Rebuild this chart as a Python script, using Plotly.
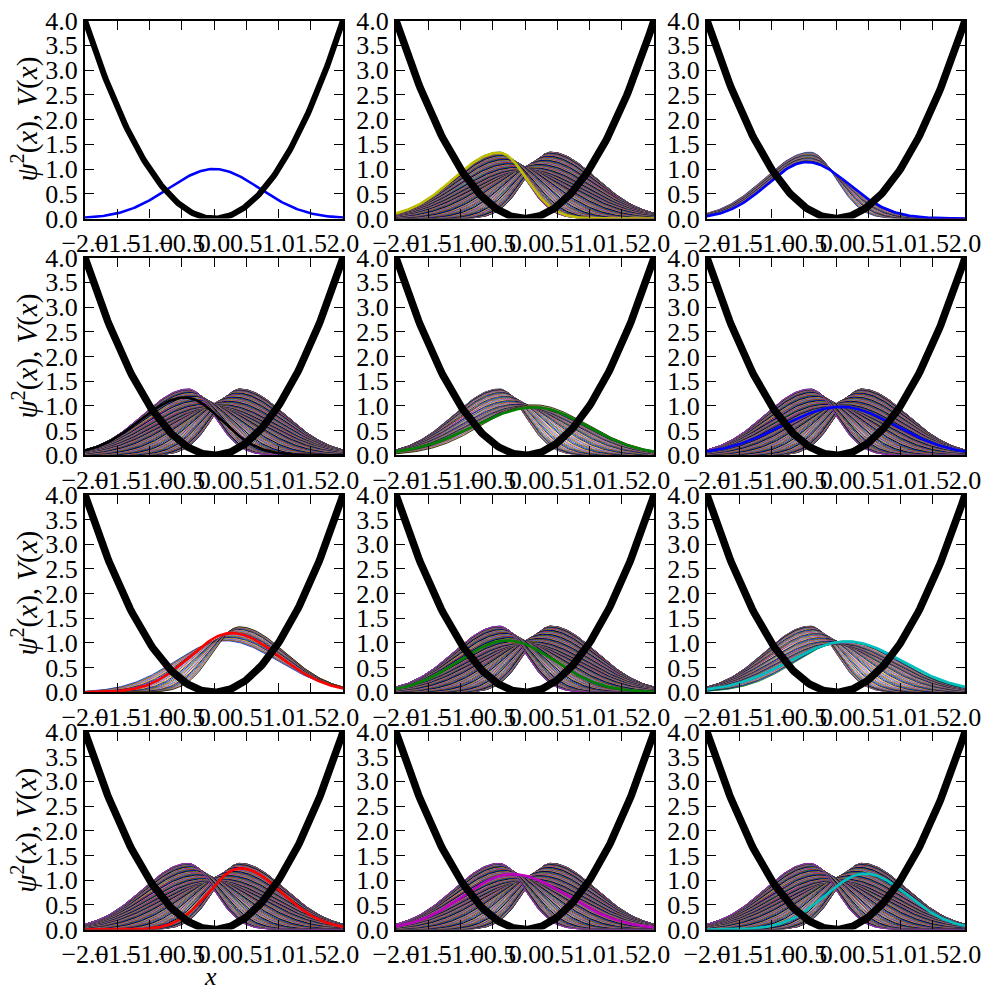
import numpy as np
import plotly.graph_objects as go

# ---------------------------------------------------------------- data ----
# sampling grid and tick labels
X_MIN, X_MAX = -2.0, 2.0
Y_MIN, Y_MAX = 0.0, 4.0
X_TICKS = [-2.0, -1.5, -1.0, -0.5, 0.0, 0.5, 1.0, 1.5, 2.0]
X_TICK_TEXT = ["\u22122.0", "\u22121.5", "\u22121.0", "\u22120.5", "0.0", "0.5", "1.0", "1.5", "2.0"]
Y_TICKS = [0.0, 0.5, 1.0, 1.5, 2.0, 2.5, 3.0, 3.5, 4.0]
Y_TICK_TEXT = ["0.0", "0.5", "1.0", "1.5", "2.0", "2.5", "3.0", "3.5", "4.0"]

# oscillating density: turning-point state and mid-swing state
TURN_SHIFT = 0.40      # centre offset at the turning points
TURN_PEAK = 1.34       # peak height at the turning points
TURN_OUTER_W = 1.00    # width on the outer flank at the turning points
TURN_INNER_W = 0.56    # width on the inner flank at the turning points
MID_PEAK = 0.98        # peak height when crossing the middle
MID_W = 1.20           # width when crossing the middle

# per-panel band of earlier frames (phase in degrees), None = no band
BAND_FROM = [None, 0, 0, 0, 0, 0, 115, 0, 0, 0, 0, 0]
BAND_TO = [None, 360, 0, 360, 112, 360, 170, 360, 115, 360, 360, 360]
BAND_INTO_CURRENT = [False, False, True, False, False, False, False, False, False, False, False, False]

# current frame of each panel (split-Gaussian: centre, peak, left width, right width)
CUR_CENTER = [0.00, -0.40, -0.45, -0.45, 0.15, 0.08, 0.27, -0.28, 0.17, 0.41, -0.20, 0.45]
CUR_PEAK = [1.00, 1.33, 1.14, 1.17, 0.97, 0.98, 1.20, 1.05, 1.03, 1.24, 1.12, 1.13]
CUR_LEFT_W = [1.00, 1.00, 0.87, 0.98, 1.33, 1.30, 0.90, 1.05, 1.28, 0.70, 1.07, 0.88]
CUR_RIGHT_W = [1.00, 0.60, 0.92, 0.80, 1.15, 1.20, 1.05, 1.05, 1.22, 0.90, 1.22, 0.94]
CUR_COLOR = ["b", "y", "b", "k", "g", "b", "r", "g", "c", "r", "m", "c"]

CYCLE = ["b", "g", "r", "c", "m", "y", "k"]
RGB = {"b": "#0000ff", "g": "#008000", "r": "#ff0000", "c": "#00bfbf",
       "m": "#bf00bf", "y": "#bfbf00", "k": "#000000"}

# ------------------------------------------------------------- helpers ----
x = np.linspace(X_MIN, X_MAX, 161)
xs = np.round(x, 4)


def density(c, h, wl, wr):
    w = np.where(x < c, wl, wr)
    return np.round(h * np.exp(-((x - c) / w) ** 2), 4)


def phase_state(deg):
    k = np.cos(np.radians(deg))
    c = -TURN_SHIFT * k
    f = k * k
    h = MID_PEAK + (TURN_PEAK - MID_PEAK) * f
    w_out = MID_W + (TURN_OUTER_W - MID_W) * f
    w_in = MID_W + (TURN_INNER_W - MID_W) * f
    return (c, h, w_out, w_in) if c < 0 else (c, h, w_in, w_out)


# ---------------------------------------------------------------- layout ----
W, H = 982, 992
COLS = [(85, 343), (396, 654), (707, 965)]
ROWS = [(20.5, 218.5), (257.7, 455.2), (494.8, 692.3), (732.0, 929.5)]
FONT = "Liberation Serif, DejaVu Serif, serif"

fig = go.Figure()
layout = dict(width=W, height=H, autosize=False,
              margin=dict(l=0, r=0, t=0, b=0, pad=0, autoexpand=False),
              paper_bgcolor="white", plot_bgcolor="white", showlegend=False)
annotations = []

for i in range(12):
    r, col = divmod(i, 3)
    xa = "x" if i == 0 else f"x{i + 1}"
    ya = "y" if i == 0 else f"y{i + 1}"

    # band of earlier frames, one line per frame in colour-cycle order
    if BAND_FROM[i] is not None:
        if BAND_INTO_CURRENT[i]:
            a = np.array(phase_state(BAND_FROM[i]))
            b = np.array([CUR_CENTER[i], CUR_PEAK[i], CUR_LEFT_W[i], CUR_RIGHT_W[i]])
            states = [tuple(a + (b - a) * t) for t in np.linspace(0, 1, 24)]
        else:
            states = [phase_state(d) for d in np.arange(BAND_FROM[i], BAND_TO[i], 2.0)]
        for j, s in enumerate(states):
            fig.add_trace(go.Scatter(x=xs, y=density(*s), mode="lines", xaxis=xa, yaxis=ya,
                                     line=dict(color=RGB[CYCLE[j % len(CYCLE)]], width=0.9),
                                     opacity=0.85, hoverinfo="skip"))

    # current frame
    fig.add_trace(go.Scatter(x=xs, y=density(CUR_CENTER[i], CUR_PEAK[i], CUR_LEFT_W[i], CUR_RIGHT_W[i]),
                             mode="lines", xaxis=xa, yaxis=ya,
                             line=dict(color=RGB[CUR_COLOR[i]], width=2.6)))
    # potential V(x) = x^2
    fig.add_trace(go.Scatter(x=xs, y=np.round(x ** 2, 4), mode="lines", xaxis=xa, yaxis=ya,
                             line=dict(color="black", width=6 if i == 0 else 7.5)))

    x0, x1 = COLS[col]
    y0, y1 = ROWS[r]
    common = dict(ticks="inside", ticklen=9, tickwidth=1.1, tickcolor="black",
                  showline=True, linewidth=2.2, linecolor="black", mirror="ticks",
                  showgrid=False, zeroline=False, fixedrange=True, automargin=False,
                  tickfont=dict(family=FONT, size=26, color="black"))
    layout["xaxis" if i == 0 else f"xaxis{i + 1}"] = dict(
        domain=[x0 / W, x1 / W], anchor=ya, range=[X_MIN, X_MAX],
        tickmode="array", tickvals=X_TICKS, ticktext=X_TICK_TEXT, tickangle=0, **common)
    layout["yaxis" if i == 0 else f"yaxis{i + 1}"] = dict(
        domain=[1 - y1 / H, 1 - y0 / H], anchor=xa, range=[Y_MIN, Y_MAX],
        tickmode="array", tickvals=Y_TICKS, ticktext=Y_TICK_TEXT, **common)

    if col == 0:
        annotations.append(dict(
            text="<i>\u03c8</i><sup>2</sup>(<i>x</i>), <i>V</i>(<i>x</i>)",
            x=25 / W, y=1 - (y0 + y1) / 2 / H, xref="paper", yref="paper",
            textangle=-90, showarrow=False, xanchor="center", yanchor="middle",
            font=dict(family=FONT, size=29, color="black")))

annotations.append(dict(text="<i>x</i>", x=210 / W, y=1 - 976 / H, xref="paper", yref="paper",
                        showarrow=False, xanchor="center", yanchor="middle",
                        font=dict(family=FONT, size=26, color="black")))
layout["annotations"] = annotations
fig.update_layout(**layout)
fig.write_html("out.html")
